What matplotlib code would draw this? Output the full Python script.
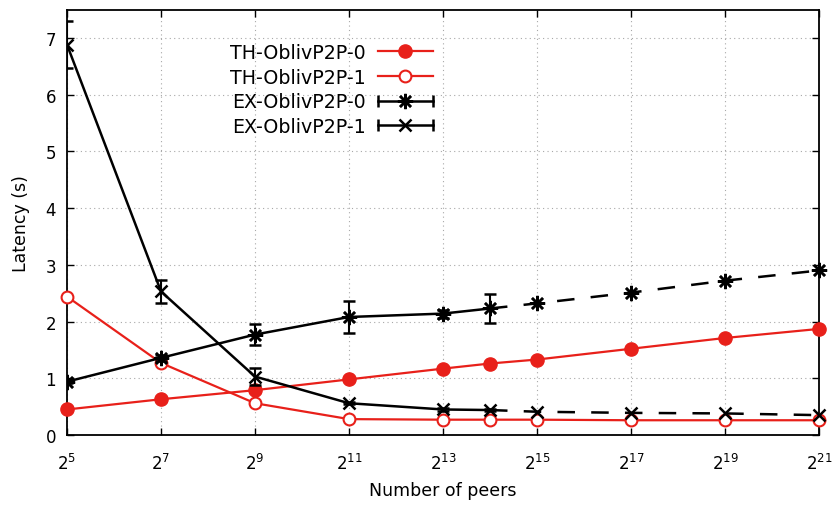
import math
import matplotlib
matplotlib.use("Agg")
import matplotlib.pyplot as plt
from matplotlib.lines import Line2D
from matplotlib.legend_handler import HandlerBase
from matplotlib.ticker import FixedLocator, NullLocator, FuncFormatter

plt.rcParams['font.family'] = ['DejaVu Sans']

peers = [2**5, 2**7, 2**9, 2**11, 2**13, 2**14, 2**15, 2**17, 2**19, 2**21]
th0 = [0.45, 0.63, 0.79, 0.98, 1.17, 1.26, 1.33, 1.52, 1.71, 1.87]
th1 = [2.44, 1.27, 0.56, 0.28, 0.27, 0.27, 0.27, 0.26, 0.26, 0.26]
ex0 = [0.94, 1.36, 1.77, 2.08, 2.14, 2.23, 2.32, 2.51, 2.72, 2.90]
ex0_err = [0.03, 0.05, 0.18, 0.29, 0.07, 0.25]
ex1 = [6.88, 2.53, 1.03, 0.56, 0.45, 0.44, 0.41, 0.39, 0.38, 0.35]
ex1_err = [0.41, 0.21, 0.15, 0.02, 0.02, 0.02]
xtick_exp = [5, 7, 9, 11, 13, 15, 17, 19, 21]
yticks = [0, 1, 2, 3, 4, 5, 6, 7]
labels = ['TH-OblivP2P-0', 'TH-OblivP2P-1', 'EX-OblivP2P-0', 'EX-OblivP2P-1']

RED = '#e8201a'
AST = (8, 2, 0)

fig = plt.figure(figsize=(8.34, 5.06), dpi=100)
ax = fig.add_axes([67/834, 1-436/506, (819-67)/834, (436-10.5)/506])
ax.set_xscale('log', base=2)
ax.set_xlim(2**5, 2**21)
ax.set_ylim(0, 7.5)

lw_r = 1.6
lw_k = 1.8
ax.plot(peers, th0, color=RED, lw=lw_r, marker='o', ms=9.5, mfc=RED, mec=RED, zorder=3, clip_on=False)
ax.plot(peers, th1, color=RED, lw=lw_r, marker='o', ms=8.5, mfc='white', mec=RED, mew=1.5, zorder=3, clip_on=False)

n = len(ex0_err)
ax.errorbar(peers[:n], ex0[:n], yerr=ex0_err, color='k', lw=lw_k, marker=AST, ms=11, mew=1.8,
            capsize=4, capthick=1.5, elinewidth=1.5, zorder=4)
ax.errorbar(peers[:n], ex1[:n], yerr=ex1_err, color='k', lw=lw_k, marker='x', ms=9, mew=1.8,
            capsize=4, capthick=1.5, elinewidth=1.5, zorder=4)
ax.plot(peers[n-1:], ex0[n-1:], color='k', lw=lw_k, dashes=(7, 6.5), marker=AST, ms=11, mew=1.8,
        markevery=list(range(1, len(peers)-n+1)), zorder=4, clip_on=False)
ax.plot(peers[n-1:], ex1[n-1:], color='k', lw=lw_k, dashes=(7, 6.5), marker='x', ms=9, mew=1.8,
        markevery=list(range(1, len(peers)-n+1)), zorder=4, clip_on=False)

ax.xaxis.set_major_locator(FixedLocator([2**e for e in xtick_exp]))
ax.xaxis.set_minor_locator(NullLocator())
ax.xaxis.set_major_formatter(FuncFormatter(lambda v, p: r'$\mathregular{2^{%d}}$' % round(math.log2(v))))
ax.set_yticks(yticks)

ax.grid(True, color='#a8a8a8', lw=0.8, dashes=(1, 3))
ax.tick_params(direction='in', top=True, right=True, length=5, width=1.0, labelsize=12)
ax.tick_params(axis='x', pad=13)
ax.tick_params(axis='y', pad=8)
for s in ax.spines.values():
    s.set_linewidth(1.3)

ax.set_xlabel('Number of peers', fontsize=12.5, labelpad=6)
ax.set_ylabel('Latency (s)', fontsize=12.5, labelpad=11)


class HErrHandler(HandlerBase):
    def __init__(self, marker, ms):
        super().__init__()
        self.marker = marker
        self.ms = ms

    def create_artists(self, legend, orig_handle, xdescent, ydescent, width, height, fontsize, trans):
        y = height / 2 - ydescent
        x0, x1 = -xdescent, width - xdescent
        line = Line2D([x0, x1], [y, y], color='k', lw=lw_k)
        caps = Line2D([x0, x1], [y, y], ls='none', marker='|', ms=8, mew=1.8, color='k')
        mk = Line2D([(x0 + x1) / 2], [y], ls='none', marker=self.marker, ms=self.ms, mew=1.8, color='k')
        for a in (line, caps, mk):
            a.set_transform(trans)
        return [line, caps, mk]


h0 = Line2D([], [], color=RED, lw=lw_r, marker='o', ms=9.5, mfc=RED, mec=RED)
h1 = Line2D([], [], color=RED, lw=lw_r, marker='o', ms=8.5, mfc='white', mec=RED, mew=1.5)
h2 = Line2D([], [], color='k')
h3 = Line2D([], [], color='k')
leg = ax.legend([h0, h1, h2, h3], labels, loc='upper right', bbox_to_anchor=(433/834, 1-44/506),
                bbox_transform=fig.transFigure, frameon=False, markerfirst=False, fontsize=13.7,
                handlelength=2.9, handletextpad=0.65, labelspacing=0.3, borderpad=0, borderaxespad=0,
                numpoints=1,
                handler_map={h2: HErrHandler(AST, 11), h3: HErrHandler('x', 9)})
for t in leg.get_texts():
    t.set_ha('right')
leg._legend_box.align = 'right'

fig.savefig('out.png', dpi=100)
